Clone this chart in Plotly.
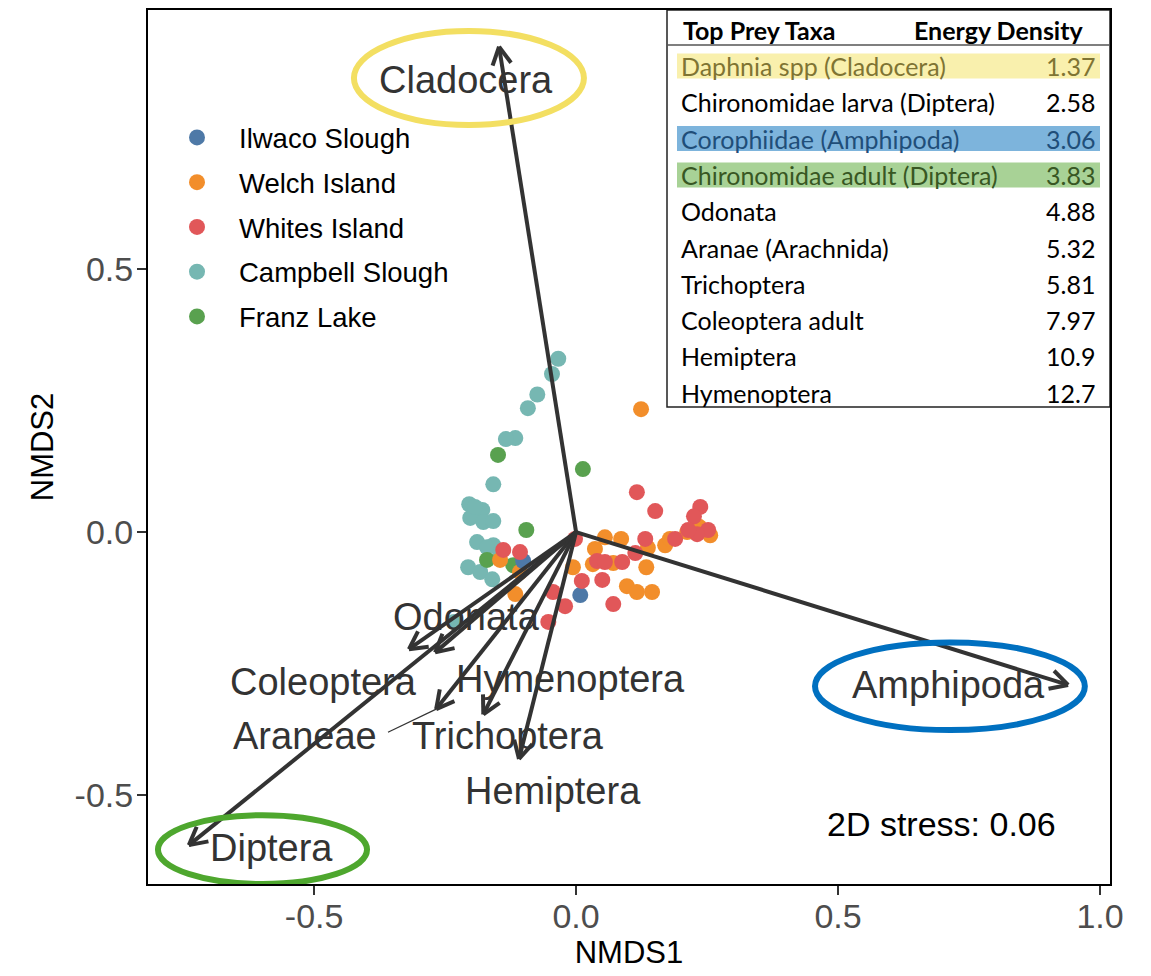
import numpy as np
import plotly.graph_objects as go

# --- site scores (NMDS1, NMDS2) ---
ilwaco_x = [-0.101, 0.008]
ilwaco_y = [-0.055, -0.120]

welch_x = [0.124, -0.145, -0.116, -0.006, 0.055, 0.086, 0.036, 0.032, 0.071, 0.134, 0.137,
           0.097, 0.116, 0.145, 0.170, 0.179, 0.212, 0.256, 0.235, -0.107]
welch_y = [0.234, -0.053, -0.118, -0.067, -0.010, -0.013, -0.032, -0.061, -0.059, -0.067, -0.030,
           -0.103, -0.114, -0.114, -0.025, -0.013, 0.000, -0.006, 0.010, -0.076]

whites_x = [0.116, 0.151, 0.237, 0.225, 0.252, 0.231, 0.214, 0.189, 0.132, 0.113, 0.088,
            0.040, 0.055, 0.011, 0.050, 0.071, -0.002, -0.107, -0.139, -0.044, -0.021, -0.053]
whites_y = [0.076, 0.040, 0.048, 0.030, 0.004, -0.004, 0.004, -0.013, -0.013, -0.040, -0.057,
            -0.055, -0.057, -0.093, -0.091, -0.137, -0.013, -0.038, -0.034, -0.114, -0.141, -0.171]

campbell_x = [-0.034, -0.046, -0.074, -0.092, -0.116, -0.134, -0.158, -0.204, -0.179, -0.202, -0.177,
              -0.158, -0.193, -0.189, -0.158, -0.170, -0.206, -0.183, -0.160, -0.233, -0.145]
campbell_y = [0.330, 0.301, 0.262, 0.236, 0.179, 0.177, 0.091, 0.053, 0.042, 0.027, 0.019,
              0.021, 0.048, -0.019, -0.025, -0.029, -0.067, -0.076, -0.090, -0.171, -0.040]

franz_x = [-0.149, 0.013, -0.095, -0.170, -0.120]
franz_y = [0.147, 0.120, 0.004, -0.053, -0.063]

# --- prey taxa vectors ---
vec_names = ["Cladocera", "Amphipoda", "Diptera", "Coleoptera", "Odonata",
             "Araneae", "Trichoptera", "Hemiptera"]
vec_x = [-0.147, 0.939, -0.739, -0.319, -0.269, -0.267, -0.177, -0.109]
vec_y = [0.924, -0.291, -0.596, -0.223, -0.229, -0.337, -0.347, -0.432]

label_names = ["Cladocera", "Amphipoda", "Diptera", "Odonata", "Coleoptera",
               "Hymenoptera", "Araneae", "Trichoptera", "Hemiptera"]
label_x = [-0.210, 0.710, -0.582, -0.210, -0.483, -0.010, -0.517, -0.130, -0.044]
label_y = [0.861, -0.291, -0.602, -0.162, -0.286, -0.280, -0.389, -0.389, -0.493]

# --- inset table ---
prey_taxa = ["Daphnia spp (Cladocera)", "Chironomidae larva (Diptera)", "Corophiidae (Amphipoda)",
             "Chironomidae adult (Diptera)", "Odonata", "Aranae (Arachnida)", "Trichoptera",
             "Coleoptera adult", "Hemiptera", "Hymenoptera"]
energy_density = ["1.37", "2.58", "3.06", "3.83", "4.88", "5.32", "5.81", "7.97", "10.9", "12.7"]
highlight = {0: ("#F9F0AD", "#7F7433"), 2: ("#7DB4DC", "#1F4E79"), 3: ("#A8D296", "#385723")}

XR = [-0.817, 1.019]
YR = [-0.670, 0.994]
# page body adds an 8px offset; plot area spans roughly x 148..1110, y 10..884 on screen
W, H = 1135, 962
L, R, T, B = 140, 33, 2, 86
OFF = 8


def px(xp):
    return (xp - OFF - L) / (W - L - R)


def py(yp):
    return (H - B - (yp - OFF)) / (H - T - B)


TXT = "#333333"
FONT = "Liberation Sans, Arial, sans-serif"
TFONT = "Lato, sans-serif"

fig = go.Figure()

sites = [
    ("Campbell Slough", campbell_x, campbell_y, "#76B7B2", 4),
    ("Franz Lake", franz_x, franz_y, "#59A14F", 5),
    ("Welch Island", welch_x, welch_y, "#F28E2B", 2),
    ("Ilwaco Slough", ilwaco_x, ilwaco_y, "#4E79A7", 1),
    ("Whites Island", whites_x, whites_y, "#E15759", 3),
]
for name, xs, ys, col, rank in sites:
    fig.add_trace(go.Scatter(x=xs, y=ys, mode="markers", name=name, legendrank=rank,
                             legendgroup=name,
                             marker=dict(size=16, color=col, line=dict(width=0))))

# arrows: shafts + open heads
head_len, ang = 0.038, np.radians(28)
sx, sy, hx, hy = [], [], [], []
for x, y in zip(vec_x, vec_y):
    sx += [0, x, None]
    sy += [0, y, None]
    a = np.arctan2(y, x)
    for s in (1, -1):
        hx += [x - head_len * np.cos(a + s * ang), x, None]
        hy += [y - head_len * np.sin(a + s * ang), y, None]
fig.add_trace(go.Scatter(x=sx + hx, y=sy + hy, mode="lines", showlegend=False, hoverinfo="skip",
                         line=dict(color=TXT, width=4)))
# repel segment for Araneae
fig.add_trace(go.Scatter(x=[-0.359, vec_x[5]], y=[-0.381, vec_y[5]], mode="lines", showlegend=False,
                         hoverinfo="skip", line=dict(color=TXT, width=1.2)))

for n, x, y in zip(label_names, label_x, label_y):
    fig.add_annotation(x=x, y=y, text=n, showarrow=False, xanchor="center", yanchor="middle",
                       font=dict(family=FONT, size=38, color=TXT))

fig.add_annotation(x=0.697, y=-0.556, text="2D stress: 0.06", showarrow=False,
                   xanchor="center", yanchor="middle", font=dict(family=FONT, size=34, color="black"))

# ellipses around key taxa
ellipses = [
    (-0.424, 0.015, 0.775, 0.954, "#F3DF62"),
    (0.456, 0.971, -0.377, -0.210, "#0070C0"),
    (-0.798, -0.399, -0.670, -0.539, "#4EA72E"),
]
for x0, x1, y0, y1, col in ellipses:
    fig.add_shape(type="circle", xref="x", yref="y", x0=x0, x1=x1, y0=y0, y1=y1,
                  line=dict(color=col, width=6))

# table box
fig.add_shape(type="rect", xref="paper", yref="paper", x0=px(667), x1=px(1110), y0=py(407), y1=1,
              line=dict(color="#222222", width=1.5), fillcolor="white", layer="below")
fig.add_shape(type="line", xref="paper", yref="paper", x0=px(667), x1=px(1110), y0=py(45), y1=py(45),
              line=dict(color="#555555", width=1.5))
fig.add_annotation(xref="paper", yref="paper", x=px(681), y=py(30), xanchor="left", yanchor="middle",
                   showarrow=False, text="<b>Top Prey Taxa</b>",
                   font=dict(family=TFONT, size=25, color="black"))
fig.add_annotation(xref="paper", yref="paper", x=px(1086), y=py(30), xanchor="right", yanchor="middle",
                   showarrow=False, text="<b>Energy Density</b>",
                   font=dict(family=TFONT, size=25, color="black"))
for i, (taxon, ed) in enumerate(zip(prey_taxa, energy_density)):
    yc = 66 + 36.3 * i
    col = "black"
    if i in highlight:
        fill, col = highlight[i]
        fig.add_shape(type="rect", xref="paper", yref="paper", x0=px(677), x1=px(1100),
                      y0=py(yc + 12.5), y1=py(yc - 12.5), fillcolor=fill, line=dict(width=0))
    fig.add_annotation(xref="paper", yref="paper", x=px(679), y=py(yc), xanchor="left", yanchor="middle",
                       showarrow=False, text=taxon, font=dict(family=TFONT, size=25, color=col))
    fig.add_annotation(xref="paper", yref="paper", x=px(1097), y=py(yc), xanchor="right", yanchor="middle",
                       showarrow=False, text=ed, font=dict(family=TFONT, size=25, color=col))

axis = dict(showline=True, mirror=True, linecolor="black", linewidth=2, ticks="outside", ticklen=9,
            tickwidth=2, tickcolor="#333333", showgrid=False, zeroline=False,
            tickfont=dict(family=FONT, size=34, color="#4D4D4D"))
fig.update_xaxes(range=XR, tickvals=[-0.5, 0, 0.5, 1.0], ticktext=["-0.5", "0.0", "0.5", "1.0"],
                 ticklabelstandoff=-8,
                 title=dict(text="NMDS1", font=dict(family=FONT, size=31, color="black"), standoff=18), **axis)
fig.update_yaxes(range=YR, tickvals=[-0.5, 0, 0.5], ticktext=["-0.5", "0.0", "0.5"],
                 ticklabelstandoff=-3,
                 title=dict(text="NMDS2", font=dict(family=FONT, size=31, color="black"), standoff=12), **axis)

fig.update_layout(
    width=W, height=H, margin=dict(l=L, r=R, t=T, b=B, autoexpand=False),
    plot_bgcolor="white", paper_bgcolor="white",
    legend=dict(x=px(155), y=py(113), xanchor="left", yanchor="top", bgcolor="rgba(0,0,0,0)",
                font=dict(family=FONT, size=27.5, color="black"), traceorder="grouped",
                tracegroupgap=6, itemwidth=74),
)

fig.write_html("out.html")
